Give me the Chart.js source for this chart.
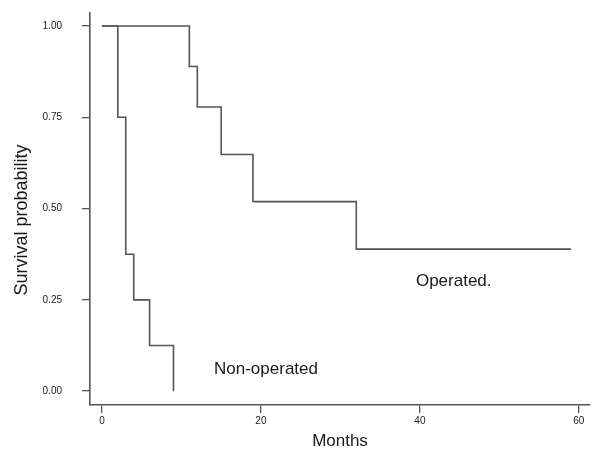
<!DOCTYPE html>
<html>
<head>
<meta charset="utf-8">
<script src="https://cdn.jsdelivr.net/npm/chart.js@4/dist/chart.umd.min.js"></script>
<style>
  html, body { margin: 0; padding: 0; background: #fff; }
  #wrap { width: 600px; height: 450px; position: relative; }
</style>
</head>
<body>
<div id="wrap"><canvas id="kmChart"></canvas></div>
<script>
// Kaplan-Meier steps (months, survival probability)
const operatedMonths = [0, 11, 12, 15, 19, 32, 59];
const operatedSurvival = [1.0, 0.889, 0.778, 0.648, 0.519, 0.389, 0.389];
const nonOperatedMonths = [0, 2, 3, 4, 6, 9];
const nonOperatedSurvival = [1.0, 0.75, 0.375, 0.25, 0.125, 0.0];

const xTicks = [0, 20, 40, 60];
const yTicks = [0, 0.25, 0.5, 0.75, 1.0];

// curve labels, placed in data units
const curveLabels = [
    { text: 'Operated.', x: 39.5, y: 0.30 },
    { text: 'Non-operated', x: 14.1, y: 0.06 }
];

const lineColor = '#555555';
const textColor = '#1a1a1a';

function toPoints(xs, ys) {
    return xs.map((x, i) => ({ x: x, y: ys[i] }));
}

const annotatePlugin = {
    id: 'annotate',
    afterDraw(chart) {
        const ctx = chart.ctx;
        const xs = chart.scales.x;
        const ys = chart.scales.y;
        ctx.save();
        ctx.fillStyle = textColor;
        ctx.font = '17px "Liberation Sans", Arial, sans-serif';
        ctx.textAlign = 'left';
        ctx.textBaseline = 'middle';
        curveLabels.forEach(l => {
            ctx.fillText(l.text, xs.getPixelForValue(l.x), ys.getPixelForValue(l.y));
        });
        // y axis title
        ctx.translate(22, 220);
        ctx.rotate(-Math.PI / 2);
        ctx.textAlign = 'center';
        ctx.font = '18px "Liberation Sans", Arial, sans-serif';
        ctx.fillText('Survival probability', 0, 0);
        ctx.restore();
    }
};

function createSurvivalChart() {
    const ctx = document.getElementById('kmChart');
    if (!ctx) return;

    new Chart(ctx, {
        type: 'line',
        data: {
            datasets: [{
                label: 'Operated',
                data: toPoints(operatedMonths, operatedSurvival),
                borderColor: lineColor,
                borderWidth: 1.6,
                pointRadius: 0,
                stepped: 'before',
                fill: false
            }, {
                label: 'Non-operated',
                data: toPoints(nonOperatedMonths, nonOperatedSurvival),
                borderColor: lineColor,
                borderWidth: 1.6,
                pointRadius: 0,
                stepped: 'before',
                fill: false
            }]
        },
        options: {
            responsive: true,
            maintainAspectRatio: false,
            animation: false,
            layout: { padding: { top: 13, right: 10, left: 0, bottom: 0 } },
            plugins: {
                legend: { display: false },
                tooltip: { enabled: false }
            },
            scales: {
                x: {
                    type: 'linear',
                    min: -1.5,
                    max: 61.4,
                    afterBuildTicks: scale => { scale.ticks = xTicks.map(v => ({ value: v })); },
                    afterFit: scale => {
                        scale.height = 45;
                        scale.paddingLeft = 0;
                        scale.paddingRight = 0;
                    },
                    grid: { drawOnChartArea: false, drawTicks: true, tickLength: 8, color: lineColor, lineWidth: 1.3 },
                    border: { display: true, color: lineColor, width: 1.6 },
                    ticks: {
                        color: textColor,
                        padding: 2,
                        maxRotation: 0,
                        font: { size: 10, family: "'Liberation Sans', Arial, sans-serif" }
                    },
                    title: {
                        display: true,
                        text: 'Months',
                        color: textColor,
                        padding: { top: 0, bottom: 0 },
                        font: { size: 17, lineHeight: 1, family: "'Liberation Sans', Arial, sans-serif" }
                    }
                },
                y: {
                    type: 'linear',
                    min: -0.038,
                    max: 1.0356,
                    afterBuildTicks: scale => { scale.ticks = yTicks.map(v => ({ value: v })); },
                    afterFit: scale => {
                        scale.width = 90;
                        scale.paddingTop = 0;
                        scale.paddingBottom = 0;
                    },
                    grid: { drawOnChartArea: false, drawTicks: true, tickLength: 8, color: lineColor, lineWidth: 1.3 },
                    border: { display: true, color: lineColor, width: 1.6 },
                    ticks: {
                        color: textColor,
                        padding: 20,
                        callback: v => Number(v).toFixed(2),
                        font: { size: 10, family: "'Liberation Sans', Arial, sans-serif" }
                    }
                }
            }
        },
        plugins: [annotatePlugin]
    });
}

document.addEventListener('DOMContentLoaded', () => {
    createSurvivalChart();
});
</script>
</body>
</html>
